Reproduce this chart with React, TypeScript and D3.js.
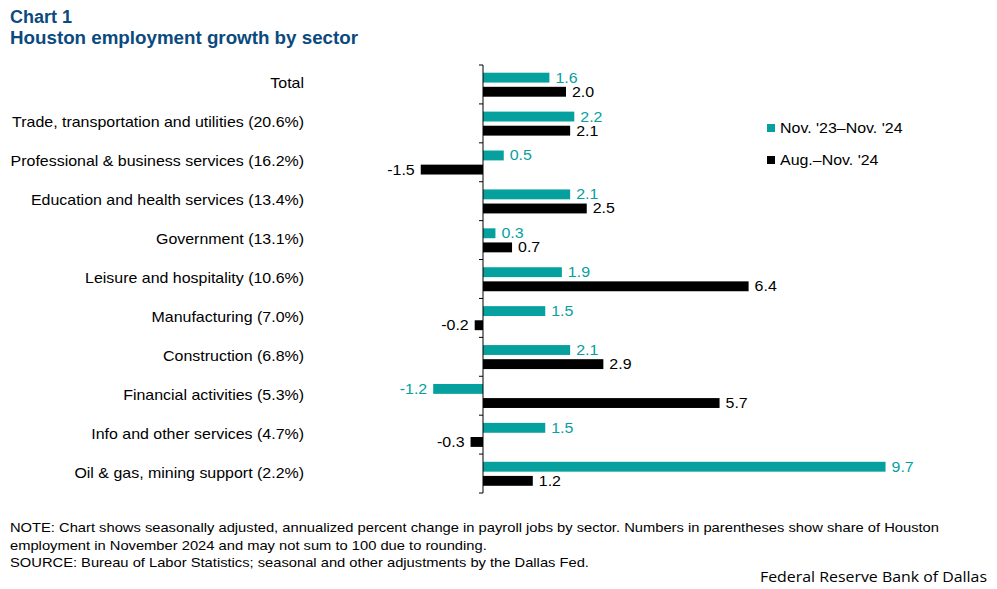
import React from "react";
import * as d3 from "d3";

const categories = [
  "Total",
  "Trade, transportation and utilities (20.6%)",
  "Professional & business services (16.2%)",
  "Education and health services (13.4%)",
  "Government (13.1%)",
  "Leisure and hospitality (10.6%)",
  "Manufacturing (7.0%)",
  "Construction (6.8%)",
  "Financial activities (5.3%)",
  "Info and other services (4.7%)",
  "Oil & gas, mining support (2.2%)",
];
const yoyValues = [1.6, 2.2, 0.5, 2.1, 0.3, 1.9, 1.5, 2.1, -1.2, 1.5, 9.7];
const augValues = [2.0, 2.1, -1.5, 2.5, 0.7, 6.4, -0.2, 2.9, 5.7, -0.3, 1.2];
const seriesNames = ["Nov. '23\u2013Nov. '24", "Aug.\u2013Nov. '24"];

const TEAL = "#06A09F";
const BLACK = "#000000";
const TITLE = "#0B4A7E";
const FONT = "Arial, 'Liberation Sans', sans-serif";
const SX = 1.14;

function T(props: any) {
  const { x, y, sx = SX, children, ...rest } = props;
  return (
    <text transform={`translate(${x},${y}) scale(${sx},1)`} {...rest}>
      {children}
    </text>
  );
}

export default function App() {
  const W = 997, H = 589;
  const x = d3.scaleLinear().domain([-2, 10]).range([400, 898]);
  const y = d3.scaleBand<string>().domain(categories).range([65, 493]).paddingInner(0);
  const inner = d3.scaleBand<string>().domain(["a", "b"]).range([7.7, 31.7]).paddingInner(0.3);
  const series = [
    { key: "a", values: yoyValues, color: TEAL },
    { key: "b", values: augValues, color: BLACK },
  ];
  const ticks = [...categories.map((c) => y(c) as number), y.range()[1]];

  return (
    <svg width={W} height={H} style={{ position: "absolute", left: 0, top: 0, background: "#fff" }} fontFamily={FONT}>
      <rect x={0} y={0} width={W} height={H} fill="#fff" />
      <text x={10} y={23} fontSize={18} fontWeight="bold" fill={TITLE}>Chart 1</text>
      <text x={10} y={43.5} fontSize={18} fontWeight="bold" fill={TITLE} textLength={348} lengthAdjust="spacingAndGlyphs">Houston employment growth by sector</text>

      {categories.map((c) => (
        <T key={c} x={304} y={(y(c) as number) + y.bandwidth() / 2 + 4} fontSize={14} textAnchor="end" fill="#000">{c}</T>
      ))}

      {series.map((s) =>
        s.values.map((v, i) => {
          const c = categories[i];
          const y0 = (y(c) as number) + (inner(s.key) as number);
          const x0 = x(Math.min(0, v));
          const x1 = x(Math.max(0, v));
          const lx = v >= 0 ? x1 + 6 : x0 - 6;
          return (
            <g key={s.key + i}>
              <rect x={x0} y={y0} width={x1 - x0} height={inner.bandwidth()} fill={s.color} />
              <T x={lx} y={y0 + inner.bandwidth() / 2 + 5} fontSize={14} fill={s.color} textAnchor={v >= 0 ? "start" : "end"}>
                {v.toFixed(1)}
              </T>
            </g>
          );
        })
      )}

      <line x1={x(0)} x2={x(0)} y1={y.range()[0]} y2={y.range()[1]} stroke="#000" strokeWidth={1} />
      {ticks.map((t, i) => (
        <line key={i} x1={x(0) - 4} x2={x(0)} y1={t} y2={t} stroke="#000" strokeWidth={1} />
      ))}

      {seriesNames.map((n, i) => (
        <g key={n}>
          <rect x={767} y={124 + i * 32} width={8} height={8} fill={i === 0 ? TEAL : BLACK} />
          <T x={780} y={133 + i * 32} fontSize={14} fill="#000">{n}</T>
        </g>
      ))}

      <T x={10} y={532} sx={1.133} fontSize={13} fill="#000">NOTE: Chart shows seasonally adjusted, annualized percent change in payroll jobs by sector. Numbers in parentheses show share of Houston</T>
      <T x={10} y={550} sx={1.133} fontSize={13} fill="#000">employment in November 2024 and may not sum to 100 due to rounding.</T>
      <T x={10} y={567} sx={1.133} fontSize={13} fill="#000">SOURCE: Bureau of Labor Statistics; seasonal and other adjustments by the Dallas Fed.</T>
      <text x={987} y={582} fontSize={14} fill="#000" textAnchor="end" fontFamily="'Open Sans', sans-serif" textLength={227} lengthAdjust="spacingAndGlyphs">Federal Reserve Bank of Dallas</text>
    </svg>
  );
}
